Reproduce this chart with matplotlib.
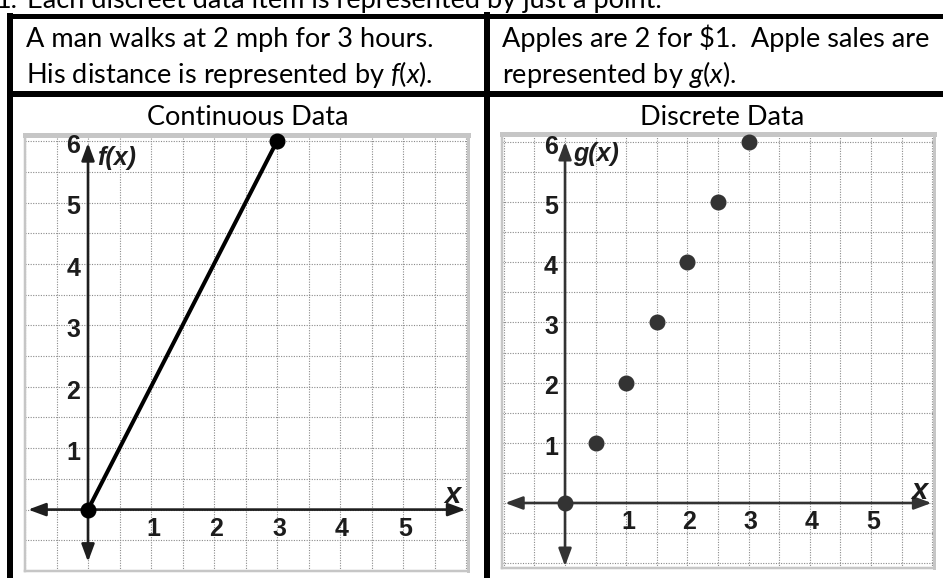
import matplotlib
matplotlib.use('Agg')
import matplotlib.pyplot as plt
import numpy as np
from matplotlib.lines import Line2D
from matplotlib.patches import ArrowStyle

# ---------------- data ----------------
cont_x = [0, 3]
cont_y = [0, 6]
disc_x = [0, 0.5, 1, 1.5, 2, 2.5, 3]
disc_y = [0, 1, 2, 3, 4, 5, 6]
x_tick_labels = [1, 2, 3, 4, 5]
y_tick_labels = [1, 2, 3, 4, 5, 6]
grid_step = 0.5

header_num = "1."
header = "Each discreet data item is represented by just a point."
row1_left = ["A man walks at 2 mph for 3 hours.",
             r"His distance is represented by $\mathit{f(x)}$."]
row1_right = ["Apples are 2 for $1.  Apple sales are",
              r"represented by $\mathit{g(x)}$."]
titles = ["Continuous Data", "Discrete Data"]
ylabels_fn = ["f(x)", "g(x)"]

# ---------------- layout helpers ----------------
W, H = 943, 578
plt.rcParams['mathtext.fontset'] = 'custom'
plt.rcParams['mathtext.rm'] = 'Lato'
plt.rcParams['mathtext.it'] = 'Lato:italic'

fig = plt.figure(figsize=(W / 100, H / 100), dpi=100)
fig.patch.set_facecolor('white')


def fxp(px):
    return px / W


def fyp(py):
    return 1 - py / H


def hline(y, x0, x1, lw_px):
    fig.add_artist(Line2D([fxp(x0), fxp(x1)], [fyp(y), fyp(y)], transform=fig.transFigure,
                          color='black', lw=lw_px * 0.72, solid_capstyle='butt'))


def vline(x, y0, y1, lw_px):
    fig.add_artist(Line2D([fxp(x), fxp(x)], [fyp(y0), fyp(y1)], transform=fig.transFigure,
                          color='black', lw=lw_px * 0.72, solid_capstyle='butt'))


# table lines
hline(15.5, 7, 943, 5)
hline(94, 7, 943, 6)
vline(10, 13, 578, 6)
vline(487, 12, 578, 6)

TF = dict(family='Lato', fontsize=19.5, color='black', va='baseline')
fig.text(fxp(-4), fyp(8), header_num, **TF)
fig.text(fxp(27), fyp(8), header, **TF)
fig.text(fxp(26), fyp(47), row1_left[0], **TF)
fig.text(fxp(26), fyp(83), row1_left[1], **TF)
fig.text(fxp(502), fyp(47), row1_right[0], **TF)
fig.text(fxp(502), fyp(83), row1_right[1], **TF)
fig.text(fxp(248), fyp(125), titles[0], ha='center', **TF)
fig.text(fxp(722), fyp(125), titles[1], ha='center', **TF)

LBL = dict(family='Liberation Sans', weight='bold', fontsize=18, color='#1c1c1c')


def make_panel(box, xlim, ylim, axc, ytip):
    l, t, r, b = box
    ax = fig.add_axes([fxp(l), fyp(b), (r - l) / W, (b - t) / H])
    ax.set_xlim(*xlim)
    ax.set_ylim(*ylim)
    ax.set_xticks(np.arange(-1, 6.01, grid_step))
    ax.set_yticks(np.arange(-1, 6.01, grid_step))
    ax.tick_params(length=0, labelbottom=False, labelleft=False)
    ax.grid(True, color='#8a8a8a', lw=0.8, ls=(0, (1, 1.3)))
    ax.set_axisbelow(True)
    for side, lw in [('top', 5), ('bottom', 2.5), ('left', 2.5), ('right', 3)]:
        ax.spines[side].set_color('#c6c6c6')
        ax.spines[side].set_linewidth(lw * 0.72)
    style = ArrowStyle('<|-|>', head_length=0.7, head_width=0.26)
    ax.annotate('', xy=(xlim[1] - 0.04, 0), xytext=(xlim[0] + 0.05, 0),
                arrowprops=dict(arrowstyle=style, mutation_scale=15, lw=1.9, color=axc,
                                shrinkA=0, shrinkB=0), zorder=3)
    ax.annotate('', xy=(0, ytip), xytext=(0, ylim[0] + 0.03),
                arrowprops=dict(arrowstyle=style, mutation_scale=15, lw=1.9, color=axc,
                                shrinkA=0, shrinkB=0), zorder=3)
    for v in x_tick_labels:
        ax.text(v + 0.03, -0.31, str(v), ha='center', va='center', **LBL)
    for v in y_tick_labels:
        ax.text(-0.23, v - 0.08, str(v), ha='center', va='center', **LBL)
    return ax


ax1 = make_panel((25, 135, 468, 571), (-1.0, 6.03), (-0.88, 6.10), '#1e1e1e', 5.97)
ax1.plot(cont_x, cont_y, color='black', lw=2.9, marker='o', ms=10.5, clip_on=False, zorder=5)
ax1.text(0.14, 5.92, ylabels_fn[0], ha='left', va='top', style='italic', **LBL)
ax1.text(5.78, 0.24, 'x', ha='center', va='center', style='italic',
         **{**LBL, 'fontsize': 21})

ax2 = make_panel((502, 134, 934, 568), (-1.03, 6.03), (-1.08, 6.13), '#333333', 6.0)
ax2.plot(disc_x, disc_y, ls='none', marker='o', color='#333333', ms=10.5, clip_on=False, zorder=5)
ax2.text(0.13, 6.0, ylabels_fn[1], ha='left', va='top', style='italic', **LBL)
ax2.text(5.79, 0.2, 'x', ha='center', va='center', style='italic',
         **{**LBL, 'fontsize': 21})

fig.savefig('out.png', dpi=100, facecolor='white')
